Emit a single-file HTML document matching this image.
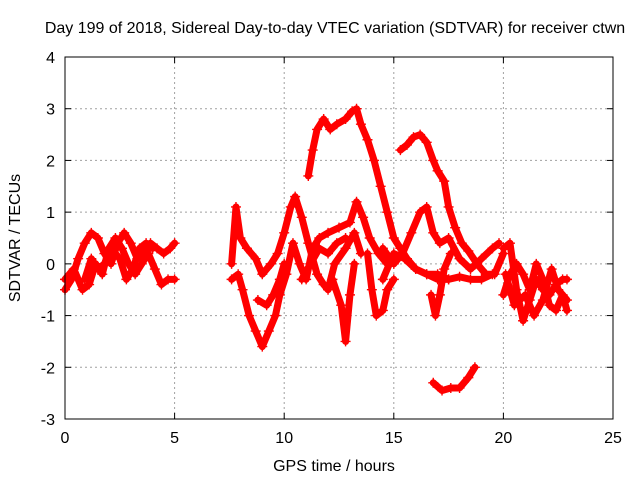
<!DOCTYPE html>
<html><head><meta charset="utf-8"><style>
body{margin:0;background:#fff;}
svg text{font-family:"Liberation Sans",sans-serif;font-size:16px;fill:#000;}
</style></head><body>
<svg id="chart" width="640" height="480">
<rect width="640" height="480" fill="#fff"/>
<text x="335" y="33" text-anchor="middle">Day 199 of 2018, Sidereal Day-to-day VTEC variation (SDTVAR) for receiver ctwn</text>
<text x="334" y="471" text-anchor="middle">GPS time / hours</text>
<text transform="translate(20,238) rotate(-90)" text-anchor="middle">SDTVAR / TECUs</text>
<g id="grid"></g><g id="ticks"></g><g id="series"></g>
<rect x="65" y="57" width="548" height="362" fill="none" stroke="#000" stroke-width="1"/>
</svg>
<script>
const xTicks=[0,5,10,15,20,25];
const yTicks=[-3,-2,-1,0,1,2,3,4];
const tracks=[
[[0,-0.5],[0.3,-0.3],[0.6,0.1],[0.9,0.4],[1.2,0.6],[1.5,0.5],[1.8,0.2],[2.1,0.0],[2.4,0.4],[2.7,0.6],[3.0,0.4],[3.3,0.1],[3.6,0.2],[3.9,0.4],[4.2,0.3],[4.5,0.2],[4.8,0.3],[5.0,0.4]],
[[0,-0.3],[0.4,-0.1],[0.8,-0.5],[1.1,-0.4],[1.4,0.0],[1.7,-0.2],[2.0,0.3],[2.3,0.5],[2.6,0.3],[2.9,0.0],[3.2,-0.2],[3.5,0.0],[3.8,0.2],[4.1,-0.1],[4.4,-0.4],[4.7,-0.3],[5.0,-0.3]],
[[0.9,-0.3],[1.2,0.1],[1.5,-0.1],[1.8,0.0],[2.1,0.3],[2.5,0.1],[2.8,-0.3],[3.1,-0.1],[3.4,0.3],[3.7,0.4],[4.0,0.3]],
[[11.1,1.7],[11.3,2.2],[11.5,2.6],[11.8,2.8],[12.1,2.6],[12.4,2.7],[12.8,2.8],[13.1,2.95],[13.3,3.0],[13.5,2.7],[13.8,2.4],[14.1,2.0],[14.4,1.5],[14.7,1.0],[15.0,0.5],[15.3,0.3],[15.6,0.1],[16.0,-0.1],[16.5,-0.2],[17.0,-0.3],[17.5,-0.3],[18.0,-0.25],[18.5,-0.3],[19.0,-0.3],[19.5,-0.2]],
[[15.3,2.2],[15.6,2.3],[15.9,2.45],[16.2,2.5],[16.5,2.35],[16.8,2.0],[17.0,1.8],[17.3,1.6],[17.5,1.1],[17.8,0.7],[18.1,0.4],[18.4,0.25],[18.8,0.0],[19.2,-0.2],[19.6,-0.2],[20.0,0.2]],
[[16.8,-2.3],[17.2,-2.45],[17.6,-2.4],[18.0,-2.4],[18.4,-2.2],[18.7,-2.0]],
[[16.7,-0.6],[16.9,-1.0],[17.1,-0.6],[17.3,-0.1],[17.6,0.2]],
[[14.5,0.3],[15.0,0.0],[15.4,0.2],[15.8,0.6],[16.2,1.0],[16.5,1.1],[16.8,0.6],[17.1,0.4],[17.5,0.5],[18.0,0.1],[18.5,-0.1],[19.0,0.1],[19.5,0.3],[19.8,0.4]],
[[14.5,-0.3],[15.0,0.2],[15.5,0.1],[16.0,-0.1],[16.5,-0.2],[17.0,-0.2],[17.5,-0.3]],
[[7.6,0.0],[7.8,1.1],[8.0,0.5],[8.3,0.3],[8.7,0.1],[9.0,-0.2],[9.4,0.0],[9.7,0.2],[10.0,0.6],[10.3,1.1],[10.5,1.3],[10.8,0.9],[11.1,0.4],[11.5,-0.2],[11.8,-0.4],[12.0,-0.5],[12.3,0.0],[12.8,0.3],[13.2,0.6],[13.5,0.2]],
[[7.6,-0.3],[7.9,-0.2],[8.1,-0.5],[8.4,-1.0],[8.7,-1.3],[9.0,-1.6],[9.3,-1.3],[9.6,-1.0],[9.8,-0.6],[10.1,-0.2],[10.4,0.4],[10.7,0.0],[11.0,-0.3],[11.3,0.3],[11.6,0.5],[12.0,0.6],[12.5,0.7],[13.0,0.8],[13.3,1.2],[13.6,0.9],[13.9,0.5],[14.3,0.2],[14.7,0.0]],
[[8.8,-0.7],[9.2,-0.8],[9.5,-0.6],[9.8,-0.3],[10.0,0.0]],
[[12.2,-0.3],[12.6,-0.8],[12.8,-1.5],[13.0,-0.6],[13.2,0.0]],
[[13.8,0.2],[14.0,-0.5],[14.2,-1.0],[14.5,-0.9],[14.7,-0.5],[15.0,-0.3]],
[[10.8,-0.3],[11.2,0.0],[11.6,0.3],[12.0,0.2],[12.4,0.4],[12.8,0.5]],
[[20.0,0.3],[20.3,0.4],[20.6,-0.5],[20.9,-1.1],[21.2,-0.7],[21.5,-0.3],[21.8,-0.5],[22.1,-0.6],[22.4,-0.4],[22.7,-0.3],[22.9,-0.3]],
[[20.0,-0.6],[20.3,-0.2],[20.6,0.0],[20.9,-0.2],[21.2,-0.5],[21.5,0.0],[21.8,-0.3],[22.1,-0.8],[22.4,-0.9],[22.7,-0.6],[22.9,-0.9]],
[[20.1,-0.2],[20.5,-0.8],[21.0,-0.6],[21.4,-1.0],[21.8,-0.7],[22.2,-0.1],[22.5,-0.5],[22.9,-0.7]]
];
const NS="http://www.w3.org/2000/svg";
const X0=65,X1=613,Y0=419,Y1=57;
function xs(t){return X0+(t-0)/25*(X1-X0);}
function ys(v){return Y0-(v+3)/7*(Y0-Y1);}
function mk(tag,attrs,parent){const e=document.createElementNS(NS,tag);for(const k in attrs)e.setAttribute(k,attrs[k]);parent.appendChild(e);return e;}
const grid=document.getElementById('grid'),ticks=document.getElementById('ticks'),ser=document.getElementById('series');
xTicks.forEach(t=>{
  const x=xs(t);
  if(t>0&&t<25){const g=mk('line',{x1:x,x2:x,y1:Y1,y2:Y0,stroke:'#a0a0a0','stroke-dasharray':'2,3'},grid);
  
  }
  mk('line',{x1:x,x2:x,y1:Y0,y2:Y0-6,stroke:'#000'},ticks);
  mk('line',{x1:x,x2:x,y1:Y1,y2:Y1+6,stroke:'#000'},ticks);
  const tx=mk('text',{x:x,y:Y0+24,'text-anchor':'middle'},ticks);tx.textContent=t;
  
  
});
yTicks.forEach(v=>{
  const y=ys(v);
  if(v>-3&&v<4){const g=mk('line',{x1:X0,x2:X1,y1:y,y2:y,stroke:'#a0a0a0','stroke-dasharray':'2,3'},grid);
  
  }
  mk('line',{x1:X0,x2:X0+6,y1:y,y2:y,stroke:'#000'},ticks);
  mk('line',{x1:X1,x2:X1-6,y1:y,y2:y,stroke:'#000'},ticks);
  const tx=mk('text',{x:X0-10,y:y+6,'text-anchor':'end'},ticks);tx.textContent=v;
  
  
});
tracks.forEach((tr,i)=>{
  const g=mk('g',{},ser);
  
  
  mk('polyline',{points:tr.map(p=>xs(p[0])+','+ys(p[1])).join(' '),fill:'none',stroke:'#f00','stroke-width':7,'stroke-linejoin':'round','stroke-linecap':'round'},g);
  let d='';
  tr.forEach(p=>{const x=xs(p[0]),y=ys(p[1]);d+=`M${x-5},${y}h10M${x},${y-5}v10`;});
  mk('path',{d:d,stroke:'#f00','stroke-width':1.4,fill:'none'},g);
});
</script>
</body></html>
